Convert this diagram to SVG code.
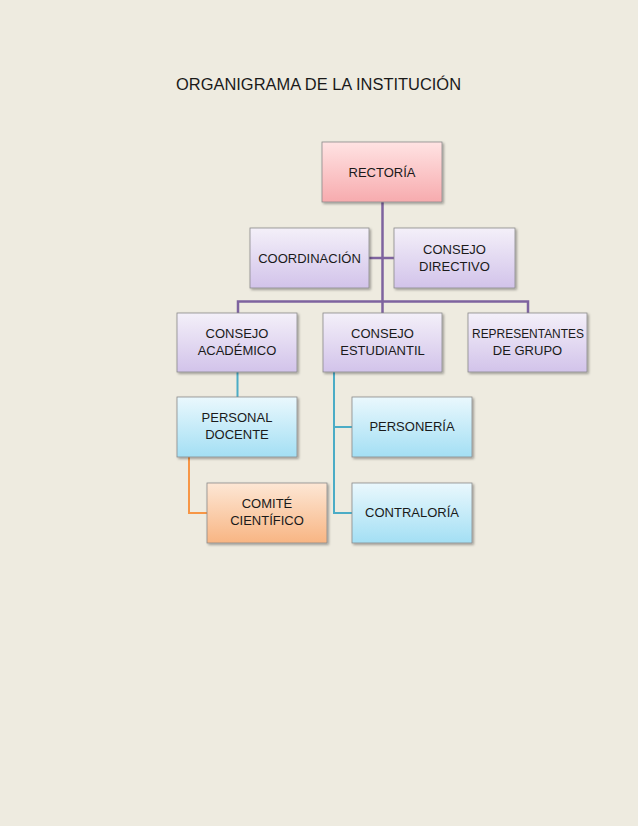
<svg xmlns="http://www.w3.org/2000/svg" width="638" height="826" viewBox="0 0 638 826">
<defs>
<linearGradient id="gPink" x1="0" y1="0" x2="0" y2="1"><stop offset="0" stop-color="#FFE3E3"/><stop offset="1" stop-color="#F7ABAE"/></linearGradient>
<linearGradient id="gPurple" x1="0" y1="0" x2="0" y2="1"><stop offset="0" stop-color="#F4F0F9"/><stop offset="1" stop-color="#D2C3EA"/></linearGradient>
<linearGradient id="gBlue" x1="0" y1="0" x2="0" y2="1"><stop offset="0" stop-color="#EAF8FD"/><stop offset="1" stop-color="#A3DFF4"/></linearGradient>
<linearGradient id="gOrange" x1="0" y1="0" x2="0" y2="1"><stop offset="0" stop-color="#FDE7D5"/><stop offset="1" stop-color="#F8B583"/></linearGradient>
<filter id="sh" x="-10%" y="-10%" width="130%" height="130%"><feDropShadow dx="1.5" dy="1.5" stdDeviation="1.2" flood-color="#000" flood-opacity="0.35"/></filter>
</defs>
<style>
.box{stroke:#8A8A8A;stroke-width:0.8;filter:url(#sh)}
.t{font-family:"Liberation Sans",Arial,sans-serif;font-size:13px;fill:#1a1a1a;text-anchor:middle}
.title{font-family:"Liberation Sans",Arial,sans-serif;font-size:16px;fill:#1a1a1a}
.cp{stroke:#7E639F;stroke-width:2.5;fill:none}
.cb{stroke:#4BACC6;stroke-width:2;fill:none}
.co{stroke:#F79646;stroke-width:2;fill:none}
</style>
<rect width="638" height="826" fill="#EEEBE0"/>
<text class="title" x="176" y="90" textLength="285" lengthAdjust="spacingAndGlyphs">ORGANIGRAMA DE LA INSTITUCIÓN</text>
<g id="connectors">
<path class="cp" d="M382.5 202 V301.5"/>
<path class="cp" d="M369 258 H394"/>
<path class="cp" d="M238 313 V301.5 H528 V313"/>
<path class="cp" d="M382.5 301.5 V313"/>
<path class="cb" d="M237.5 372 V397"/>
<path class="cb" d="M334 372 V513 H352 M334 427 H352"/>
<path class="co" d="M189 457 V513 H207"/>
</g>
<g id="rectoria"><rect class="box" x="322" y="142" width="120" height="60" fill="url(#gPink)"/><text class="t" x="382" y="177">RECTORÍA</text></g>
<g id="coordinacion"><rect class="box" x="250" y="228" width="119" height="60" fill="url(#gPurple)"/><text class="t" x="309.5" y="263">COORDINACIÓN</text></g>
<g id="consejo-directivo"><rect class="box" x="394" y="228" width="121" height="60" fill="url(#gPurple)"/><text class="t" x="454.5" y="254">CONSEJO</text><text class="t" x="454.5" y="271">DIRECTIVO</text></g>
<g id="consejo-academico"><rect class="box" x="177" y="313" width="120" height="59" fill="url(#gPurple)"/><text class="t" x="237" y="338">CONSEJO</text><text class="t" x="237" y="355">ACADÉMICO</text></g>
<g id="consejo-estudiantil"><rect class="box" x="323" y="313" width="119" height="59" fill="url(#gPurple)"/><text class="t" x="382.5" y="338">CONSEJO</text><text class="t" x="382.5" y="355">ESTUDIANTIL</text></g>
<g id="representantes"><rect class="box" x="468" y="313" width="119" height="59" fill="url(#gPurple)"/><text class="t" x="528" y="338" textLength="112" lengthAdjust="spacingAndGlyphs">REPRESENTANTES</text><text class="t" x="527.5" y="355">DE GRUPO</text></g>
<g id="personal-docente"><rect class="box" x="177" y="397" width="120" height="60" fill="url(#gBlue)"/><text class="t" x="237" y="422">PERSONAL</text><text class="t" x="237" y="439">DOCENTE</text></g>
<g id="personeria"><rect class="box" x="352" y="397" width="120" height="60" fill="url(#gBlue)"/><text class="t" x="412" y="431">PERSONERÍA</text></g>
<g id="comite"><rect class="box" x="207" y="483" width="120" height="60" fill="url(#gOrange)"/><text class="t" x="267" y="508">COMITÉ</text><text class="t" x="267" y="525">CIENTÍFICO</text></g>
<g id="contraloria"><rect class="box" x="352" y="483" width="120" height="60" fill="url(#gBlue)"/><text class="t" x="412" y="517">CONTRALORÍA</text></g>
</svg>
